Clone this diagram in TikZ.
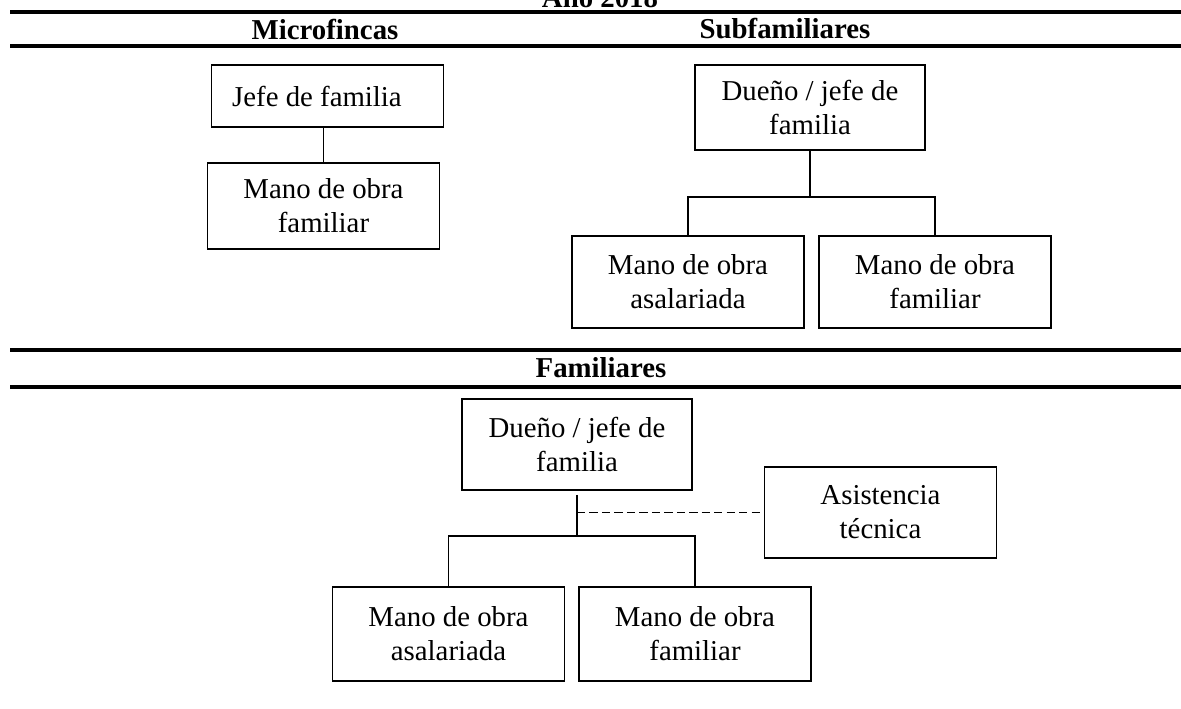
\documentclass[tikz,border=0pt]{standalone}
\usepackage{fontspec}
\setmainfont{Liberation Serif}
\usetikzlibrary{calc}

\tikzset{
  caja/.style={draw, line width=0.9pt, align=center, inner sep=0pt,
    minimum width=4.64cm, font=\fontsize{16.4}{19.4}\selectfont},
  titulo/.style={inner sep=0pt, font=\bfseries\fontsize{16.4}{19.4}\selectfont},
  regla/.style={line width=2pt},
  linea/.style={line width=0.9pt}
}

\begin{document}
\begin{tikzpicture}[x=0.02cm,y=-0.02cm]
		% fix the frame
		\useasboundingbox (0,0) rectangle (1181,708);
		\clip (0,0) rectangle (1181,708);
		% draw title and rules
		\node[titulo,anchor=base] (anio) at (600,7) {Año 2018};
		\foreach \y in {12,46,350,387}
		\draw[regla] (10,\y) -- (1181,\y);
		% draw headings
		\node[titulo] (micro) at (325,29) {Microfincas};
		\node[titulo] (subfam) at (785,29) {Subfamiliares};
		\node[titulo] (fami) at (601,368) {Familiares};
		% microfincas
		\node[caja,minimum height=1.24cm] (jefeA) at (327.5,96) {Jefe de familia\hspace*{12pt}};
		\node[caja,minimum height=1.72cm] (manoA) at (323.5,206) {Mano de obra\\familiar};
		\draw[linea] (manoA.north) -- (manoA.north |- jefeA.south);
		% subfamiliares
		\node[caja,minimum width=4.6cm,minimum height=1.7cm] (duenoB) at (810,107.5) {Dueño / jefe de\\familia};
		\node[caja,minimum height=1.84cm] (asalB) at (688,282) {Mano de obra\\asalariada};
		\node[caja,minimum height=1.84cm] (famB) at (935,282) {Mano de obra\\familiar};
		\coordinate (ramaB) at (808,197);
		\draw[linea] (duenoB.south) -- (duenoB.south |- ramaB);
		\draw[linea] (asalB.north) -- (asalB.north |- ramaB) -- (famB.north |- ramaB) -- (famB.north);
		% familiares
		\node[caja,minimum width=4.6cm,minimum height=1.82cm] (duenoC) at (577,444.5) {Dueño / jefe de\\familia};
		\node[caja,minimum height=1.82cm] (asist) at (880.5,512.5) {Asistencia\\técnica};
		\node[caja,minimum height=1.88cm] (asalC) at (448.5,634) {Mano de obra\\asalariada};
		\node[caja,minimum height=1.88cm] (famC) at (695,634) {Mano de obra\\familiar};
		\coordinate (ramaC) at (576,536);
		\draw[linea,shorten <=0.08cm] (duenoC.south) -- (duenoC.south |- ramaC);
		\draw[linea] (asalC.north) -- (asalC.north |- ramaC) -- (famC.north |- ramaC) -- (famC.north);
		\draw[linea,line width=1pt,dash pattern=on 4.7pt off 2.4pt] (duenoC.south |- asist.west) -- (asist.west);
\end{tikzpicture}
\end{document}
